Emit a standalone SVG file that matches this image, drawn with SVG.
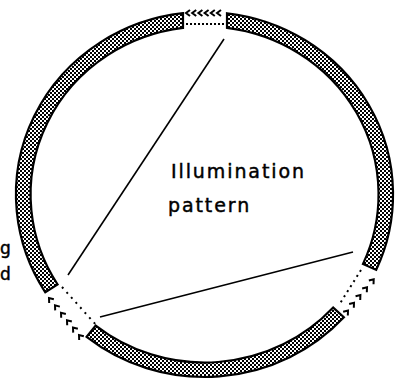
<svg xmlns="http://www.w3.org/2000/svg" xmlns:xlink="http://www.w3.org/1999/xlink" width="397" height="379" viewBox="0 0 397 379">
  <style>
    .seg { fill: url(#halftone); stroke: #000; stroke-width: 2.2; stroke-linejoin: miter; }
    .dots { fill: none; stroke: #000; stroke-width: 2; }
    .chev { fill: none; stroke: #000; stroke-width: 2; stroke-linejoin: miter; }
    .ray { fill: none; stroke: #000; stroke-width: 1.6; }
    .lbl { font-family: "DejaVu Sans", "Liberation Sans", sans-serif; font-size: 19px; fill: #000; stroke: #000; stroke-width: 0.45; }
    .edge { font-size: 17px; }
  </style>
  <defs>
    <pattern id="halftone" width="4" height="4" patternUnits="userSpaceOnUse">
      <rect width="4" height="4" fill="#000"/>
      <rect x="0" y="0" width="2" height="2" fill="#fff"/>
      <rect x="2" y="2" width="2" height="2" fill="#fff"/>
    </pattern>
    <path id="chev" class="chev" d="M4,-3 L0,0 L4,3"/>
  </defs>
  <rect width="397" height="379" fill="#fff"/>

  <g id="ring">
    <path id="seg-right" class="seg" d="M227,13.3 A188.5,182.5 0 0 1 376.2,269.9 L363,263.9 A174,168 0 0 0 227,27.9 Z"/>
    <path id="seg-bottom" class="seg" d="M343.9,317.3 A188.5,182.5 0 0 1 86.6,336.9 L95.7,325.6 A174,168 0 0 0 333.2,307.6 Z"/>
    <path id="seg-left" class="seg" d="M45.3,292.3 A188.5,182.5 0 0 1 183,13.2 L183,27.9 A174,168 0 0 0 57.6,284.5 Z"/>
  </g>

  <g id="gap-top">
    <line class="dots" x1="186" y1="24" x2="225" y2="24" stroke-dasharray="2 2"/>
    <use xlink:href="#chev" transform="translate(186,13)"/>
    <use xlink:href="#chev" transform="translate(192.2,13)"/>
    <use xlink:href="#chev" transform="translate(198.4,13)"/>
    <use xlink:href="#chev" transform="translate(204.6,13)"/>
    <use xlink:href="#chev" transform="translate(210.8,13)"/>
    <use xlink:href="#chev" transform="translate(217,13)"/>
  </g>

  <g id="gap-left">
    <line class="dots" x1="62" y1="287" x2="97" y2="326" stroke-dasharray="2 4.8"/>
    <use xlink:href="#chev" transform="translate(49,298) rotate(51)"/>
    <use xlink:href="#chev" transform="translate(55,305.4) rotate(51)"/>
    <use xlink:href="#chev" transform="translate(61,312.8) rotate(51)"/>
    <use xlink:href="#chev" transform="translate(67,320.2) rotate(51)"/>
    <use xlink:href="#chev" transform="translate(73,327.6) rotate(51)"/>
    <use xlink:href="#chev" transform="translate(79,335) rotate(51)"/>
  </g>

  <g id="gap-right">
    <line class="dots" x1="361" y1="270" x2="339" y2="305" stroke-dasharray="2 4"/>
    <use xlink:href="#chev" transform="translate(373.7,279.3) rotate(129)"/>
    <use xlink:href="#chev" transform="translate(367,287.2) rotate(129)"/>
    <use xlink:href="#chev" transform="translate(360.4,295) rotate(129)"/>
    <use xlink:href="#chev" transform="translate(354,302.8) rotate(129)"/>
    <use xlink:href="#chev" transform="translate(348,310.5) rotate(129)"/>
  </g>

  <g id="connectors">
    <line class="ray" x1="224" y1="39" x2="68" y2="275"/>
    <line class="ray" x1="100" y1="317" x2="353" y2="252"/>
  </g>

  <g id="label-illumination">
    <text class="lbl" x="171" y="178" letter-spacing="1.9">Illumination</text>
    <text class="lbl" x="168" y="212" letter-spacing="1.9">pattern</text>
  </g>
  <g id="label-left">
    <text class="lbl edge" x="0" y="254">g</text>
    <text class="lbl edge" x="0" y="280">d</text>
  </g>
</svg>
